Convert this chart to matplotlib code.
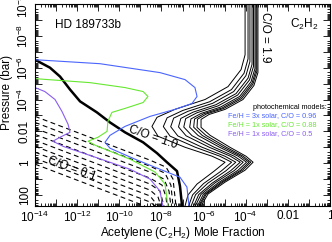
import matplotlib
matplotlib.use("Agg")
import matplotlib.pyplot as plt
from matplotlib.ticker import LogLocator, NullFormatter
import numpy as np

plt.rcParams['font.family'] = ['Liberation Sans', 'DejaVu Sans']
plt.rcParams['mathtext.fontset'] = 'custom'
plt.rcParams['mathtext.rm'] = 'Liberation Sans'
plt.rcParams['mathtext.it'] = 'Liberation Sans:italic'
plt.rcParams['mathtext.bf'] = 'Liberation Sans:bold'
plt.rcParams['lines.scale_dashes'] = False

# all values are log10(mole fraction) and log10(pressure / bar)

# equilibrium, C/O = 1.1 ... 1.9 (thin solid)
co_high = [1.1, 1.2, 1.3, 1.4, 1.5, 1.6, 1.7, 1.8, 1.9]
high_x = [
    [-4.03, -4.03, -4.22, -4.84, -5.93, -7.36, -8.21, -8.45, -8.16, -6.88, -5.60, -4.98, -5.50, -6.31, -6.74, -6.88],
    [-3.89, -3.89, -4.08, -4.68, -5.71, -6.99, -7.73, -7.91, -7.59, -6.39, -5.23, -4.67, -5.16, -6.00, -6.52, -6.71],
    [-3.80, -3.80, -3.99, -4.57, -5.57, -6.74, -7.42, -7.56, -7.22, -6.07, -4.99, -4.47, -4.94, -5.80, -6.38, -6.59],
    [-3.70, -3.70, -3.89, -4.46, -5.42, -6.49, -7.08, -7.19, -6.83, -5.73, -4.73, -4.26, -4.71, -5.59, -6.23, -6.47],
    [-3.63, -3.63, -3.82, -4.38, -5.31, -6.31, -6.85, -6.94, -6.55, -5.50, -4.55, -4.12, -4.54, -5.45, -6.12, -6.39],
    [-3.56, -3.56, -3.75, -4.29, -5.20, -6.11, -6.60, -6.66, -6.26, -5.24, -4.36, -3.96, -4.37, -5.29, -6.01, -6.29],
    [-3.51, -3.51, -3.70, -4.24, -5.12, -5.98, -6.43, -6.47, -6.06, -5.07, -4.23, -3.85, -4.25, -5.18, -5.93, -6.23],
    [-3.47, -3.47, -3.66, -4.19, -5.06, -5.87, -6.29, -6.31, -5.89, -4.92, -4.12, -3.76, -4.15, -5.09, -5.87, -6.18],
    [-3.42, -3.42, -3.61, -4.13, -4.98, -5.74, -6.12, -6.12, -5.69, -4.75, -3.99, -3.65, -4.03, -4.98, -5.79, -6.12],
]
high_p = [
    [-10, -6.81, -5.88, -4.81, -4.00, -3.38, -2.88, -2.31, -1.69, -1.0, -0.44, -0.06, 0.50, 1.31, 2.00, 2.69],
    [-10, -6.55, -5.65, -4.62, -3.86, -3.31, -2.85, -2.30, -1.70, -1.0, -0.44, -0.06, 0.49, 1.28, 1.99, 2.69],
    [-10, -6.38, -5.50, -4.50, -3.76, -3.26, -2.83, -2.29, -1.71, -1.0, -0.44, -0.06, 0.48, 1.26, 1.98, 2.69],
    [-10, -6.21, -5.34, -4.37, -3.67, -3.21, -2.81, -2.28, -1.72, -1.0, -0.44, -0.06, 0.47, 1.25, 1.97, 2.69],
    [-10, -6.08, -5.23, -4.28, -3.60, -3.17, -2.80, -2.27, -1.73, -1.0, -0.44, -0.06, 0.46, 1.23, 1.96, 2.69],
    [-10, -5.95, -5.11, -4.19, -3.52, -3.13, -2.78, -2.26, -1.74, -1.0, -0.44, -0.06, 0.45, 1.22, 1.95, 2.69],
    [-10, -5.86, -5.03, -4.12, -3.47, -3.11, -2.77, -2.26, -1.74, -1.0, -0.44, -0.06, 0.45, 1.21, 1.95, 2.69],
    [-10, -5.78, -4.96, -4.06, -3.43, -3.09, -2.76, -2.25, -1.75, -1.0, -0.44, -0.06, 0.44, 1.20, 1.94, 2.69],
    [-10, -5.69, -4.88, -4.00, -3.38, -3.06, -2.75, -2.25, -1.75, -1.0, -0.44, -0.06, 0.44, 1.19, 1.94, 2.69],
]

# equilibrium, C/O = 1.0 (thick solid)
co1_x = [-14, -13.29, -12.81, -12.34, -11.86, -11.06, -10.44, -9.73, -8.87, -8.21, -7.74, -7.26, -7.12, -7.02]
co1_p = [-6.5, -6.0, -5.44, -4.63, -3.88, -3.19, -2.56, -1.94, -1.31, -0.63, -0.06, 0.5, 1.44, 2.69]

# equilibrium, C/O = 0.1 ... 0.9 (dashed)
co_low = [0.1, 0.2, 0.3, 0.4, 0.5, 0.6, 0.7, 0.8, 0.9]
low_x = [
    [-14, -8.78],
    [-14, -8.54, -8.30],
    [-14, -8.54, -8.16],
    [-14, -8.54, -8.16, -8.02],
    [-14, -8.54, -8.07, -7.88],
    [-14, -8.54, -7.97, -7.78, -7.74],
    [-14, -8.54, -7.88, -7.64, -7.55],
    [-14, -8.54, -7.83, -7.55, -7.45],
    [-14, -8.54, -7.78, -7.45, -7.31],
]
low_p = [
    [0.06, 2.69],
    [-0.31, 2.44, 2.69],
    [-0.69, 2.06, 2.69],
    [-1.06, 1.69, 2.13, 2.69],
    [-1.44, 1.31, 1.75, 2.69],
    [-1.81, 0.94, 1.38, 2.13, 2.69],
    [-2.19, 0.56, 1.0, 1.75, 2.69],
    [-2.56, 0.19, 0.63, 1.38, 2.69],
    [-2.94, -0.19, 0.25, 1.0, 2.69],
]

# photochemical models
blue_x = [-14, -10.92, -8.07, -6.88, -6.41, -6.31, -6.55, -7.36, -8.54, -9.73, -10.44, -10.68, -10.44, -9.25, -8.07, -7.12, -6.79, -6.69]
blue_p = [-6.5, -6.25, -5.69, -5.25, -4.75, -4.19, -3.75, -3.38, -2.94, -2.31, -1.75, -1.31, -0.94, -0.25, 0.38, 0.88, 1.5, 2.69]
green_x = [-14, -11.39, -9.73, -8.87, -8.64, -8.87, -9.73, -10.35, -10.54, -10.58, -11.01, -11.48, -11.15, -9.49, -8.30, -7.83, -7.69]
green_p = [-5.31, -5.06, -4.75, -4.5, -4.19, -3.81, -3.44, -3.19, -2.63, -2.0, -1.63, -1.38, -1.13, -0.25, 0.56, 1.31, 2.69]
purple_x = [-14, -13.53, -13.05, -12.72, -12.43, -12.34, -12.81, -13.15, -12.67, -11.15, -9.49, -8.54, -8.07, -7.93]
purple_p = [-4.75, -4.5, -4.0, -3.25, -2.44, -1.94, -1.63, -1.38, -1.06, -0.38, 0.38, 1.0, 1.75, 2.69]

photo_labels = ["Fe/H = 3x solar, C/O = 0.96", "Fe/H = 1x solar, C/O = 0.88", "Fe/H = 1x solar, C/O = 0.5"]
photo_colors = ["#4a64ff", "#66e830", "#8a5cf0"]

x_ticks = list(range(-14, 1))
x_ticklabels = [r"$10^{-14}$", "", r"$10^{-12}$", "", r"$10^{-10}$", "", r"$10^{-8}$", "",
                r"$10^{-6}$", "", r"$10^{-4}$", "", "0.01", "", "1"]
y_ticks = list(range(-10, 3))
y_ticklabels = [r"$10^{-10}$", "", r"$10^{-8}$", "", r"$10^{-6}$", "", r"$10^{-4}$", "",
                "0.01", "", "1", "", "100"]

fig = plt.figure(figsize=(3.32, 2.42), dpi=100)
ax = fig.add_axes([35 / 332, 1 - 206 / 242, 295 / 332, 202 / 242])

for xs, ps in zip(high_x, high_p):
    ax.plot(10.0 ** np.array(xs), 10.0 ** np.array(ps), color="black", lw=0.7)
for xs, ps in zip(low_x, low_p):
    ax.plot(10.0 ** np.array(xs), 10.0 ** np.array(ps), color="black", lw=0.8, dashes=(3.5, 2.5))
ax.plot(10.0 ** np.array(co1_x), 10.0 ** np.array(co1_p), color="black", lw=1.8)

photo = [(blue_x, blue_p), (green_x, green_p), (purple_x, purple_p)]
for (xs, ps), c in zip(photo, photo_colors):
    ax.plot(10.0 ** np.array(xs), 10.0 ** np.array(ps), color=c, lw=0.8)

ax.set_xscale("log")
ax.set_yscale("log")
ax.set_xlim(1e-14, 1)
ax.set_ylim(10 ** 2.69, 1e-10)

ax.set_xticks([10.0 ** e for e in x_ticks])
ax.set_xticklabels(x_ticklabels)
ax.set_yticks([10.0 ** e for e in y_ticks])
ax.set_yticklabels(y_ticklabels, rotation=90, va="center")
ax.xaxis.set_minor_locator(LogLocator(base=10, subs=np.arange(2, 10), numticks=30))
ax.yaxis.set_minor_locator(LogLocator(base=10, subs=np.arange(2, 10), numticks=30))
ax.xaxis.set_minor_formatter(NullFormatter())
ax.yaxis.set_minor_formatter(NullFormatter())
ax.tick_params(which="both", direction="in", top=True, right=True, labelsize=8.5, width=0.6)
ax.tick_params(which="major", length=5, pad=3)
ax.tick_params(which="minor", length=2.5)
for s in ax.spines.values():
    s.set_linewidth(0.8)

ax.set_xlabel(r"Acetylene (C$_2$H$_2$) Mole Fraction", fontsize=8.5, labelpad=0)
ax.set_ylabel("Pressure (bar)", fontsize=8.5, labelpad=2)
ax.yaxis.set_label_coords(-0.076, 0.56)

ax.text(10 ** -13.05, 10 ** -8.69, "HD 189733b", fontsize=8.5, va="center", ha="left")
ax.text(10 ** -1.9, 10 ** -8.69, r"C$_2$H$_2$", fontsize=8.5, va="center", ha="left")
ax.text(10 ** -3.08, 10 ** -7.94, "C/O = 1.9", fontsize=8.5, rotation=-90, ha="center", va="center")
ax.text(10 ** -8.4, 10 ** -1.6, "C/O = 1.0", fontsize=8.5, rotation=-19, ha="center", va="center",
        rotation_mode="anchor")
ax.text(10 ** -12.24, 10 ** 0.38, "C/O = 0.1", fontsize=8.5, rotation=-20, ha="center", va="center",
        rotation_mode="anchor")

ax.text(10 ** -3.65, 10 ** -3.5, "photochemical models:", fontsize=5.2, ha="left", va="center")
for i, (lab, c) in enumerate(zip(photo_labels, photo_colors)):
    ax.text(10 ** -4.84, 10 ** (-3.0 + 0.56 * i), lab, fontsize=5.2, color=c, ha="left", va="center")

fig.savefig("out.png", dpi=100)
